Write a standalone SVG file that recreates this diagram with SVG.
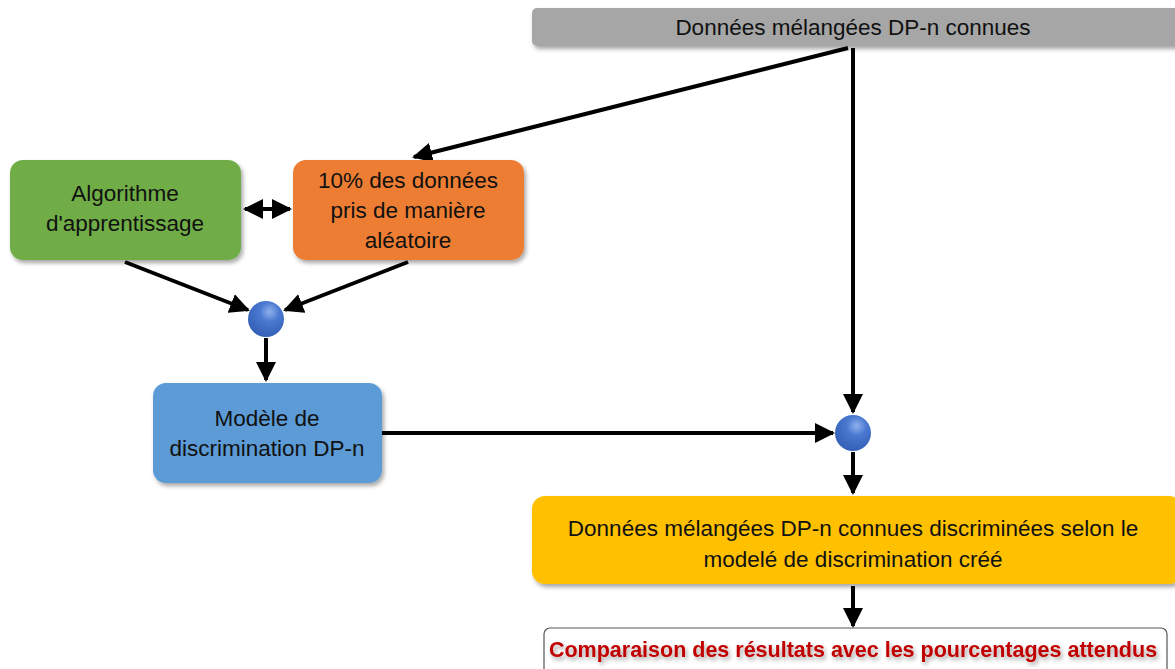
<svg xmlns="http://www.w3.org/2000/svg" width="1175" height="669" viewBox="0 0 1175 669">
<defs>
<style>
.t{font-family:"Liberation Sans",Arial,sans-serif;font-size:22.5px;fill:#111;text-anchor:middle}
.box{stroke:none;filter:url(#sh)}
.ln{stroke:#000;stroke-width:4;fill:none;marker-end:url(#ah)}
.red{font-family:"Liberation Sans",Arial,sans-serif;font-size:21.5px;font-weight:bold;fill:#c00000;text-anchor:middle}
</style>
<filter id="sh" x="-10%" y="-10%" width="120%" height="130%">
<feDropShadow dx="2" dy="3" stdDeviation="2" flood-color="#000" flood-opacity="0.35"/>
</filter>
<marker id="ah" viewBox="0 0 10 10" refX="9" refY="5" markerWidth="5" markerHeight="5" orient="auto-start-reverse" markerUnits="strokeWidth">
<path d="M0,0 L10,5 L0,10 z" fill="#000"/>
</marker>
<radialGradient id="ball" cx="0.6" cy="0.3" r="0.8">
<stop offset="0" stop-color="#8fb0ee"/>
<stop offset="0.35" stop-color="#4a78d0"/>
<stop offset="1" stop-color="#2f5ab0"/>
</radialGradient>
</defs>
<rect width="1175" height="669" fill="#fff"/>
<g id="connectors">
<path class="ln" d="M848,48 L414,157"/>
<path class="ln" d="M853,48 L853,412"/>
<path class="ln" d="M245,209 L290,209" marker-start="url(#ah)"/>
<path class="ln" d="M125,262 L248,310"/>
<path class="ln" d="M408,262 L285,310"/>
<path class="ln" d="M266,338 L266,380"/>
<path class="ln" d="M382,433 L833,433"/>
<path class="ln" d="M853,452 L853,493"/>
<path class="ln" d="M853,586 L853,626"/>
</g>
<g id="n_top">
<rect class="box" x="532" y="8" width="650" height="38" rx="5" fill="#a6a6a6"/>
<text class="t" x="853" y="35">Données mélangées DP-n connues</text>
</g>
<g id="n_algo">
<rect class="box" x="10" y="160" width="231" height="100" rx="13" fill="#70ad47"/>
<text class="t" x="125" y="201">Algorithme</text>
<text class="t" x="125" y="231">d'apprentissage</text>
</g>
<g id="n_10">
<rect class="box" x="293" y="160" width="231" height="100" rx="13" fill="#ed7d31"/>
<text class="t" x="408" y="188">10% des données</text>
<text class="t" x="408" y="218">pris de manière</text>
<text class="t" x="408" y="248">aléatoire</text>
</g>
<g id="j1">
<circle cx="266" cy="319" r="18" fill="url(#ball)"/>
</g>
<g id="n_model">
<rect class="box" x="153" y="383" width="229" height="100" rx="13" fill="#5b9bd5"/>
<text class="t" x="267" y="426">Modèle de</text>
<text class="t" x="267" y="456">discrimination DP-n</text>
</g>
<g id="j2">
<circle cx="853" cy="433" r="18" fill="url(#ball)"/>
</g>
<g id="n_disc">
<rect class="box" x="532" y="496" width="650" height="88" rx="13" fill="#ffc000"/>
<text class="t" x="853" y="536">Données mélangées DP-n connues discriminées selon le</text>
<text class="t" x="853" y="567">modelé de discrimination créé</text>
</g>
<g id="n_comp">
<rect x="544" y="628" width="623" height="50" rx="6" fill="#fff" stroke="#555" stroke-width="1.2"/>
<text class="red" x="853" y="657" style="filter:url(#sh)">Comparaison des résultats avec les pourcentages attendus</text>
</g>
</svg>
